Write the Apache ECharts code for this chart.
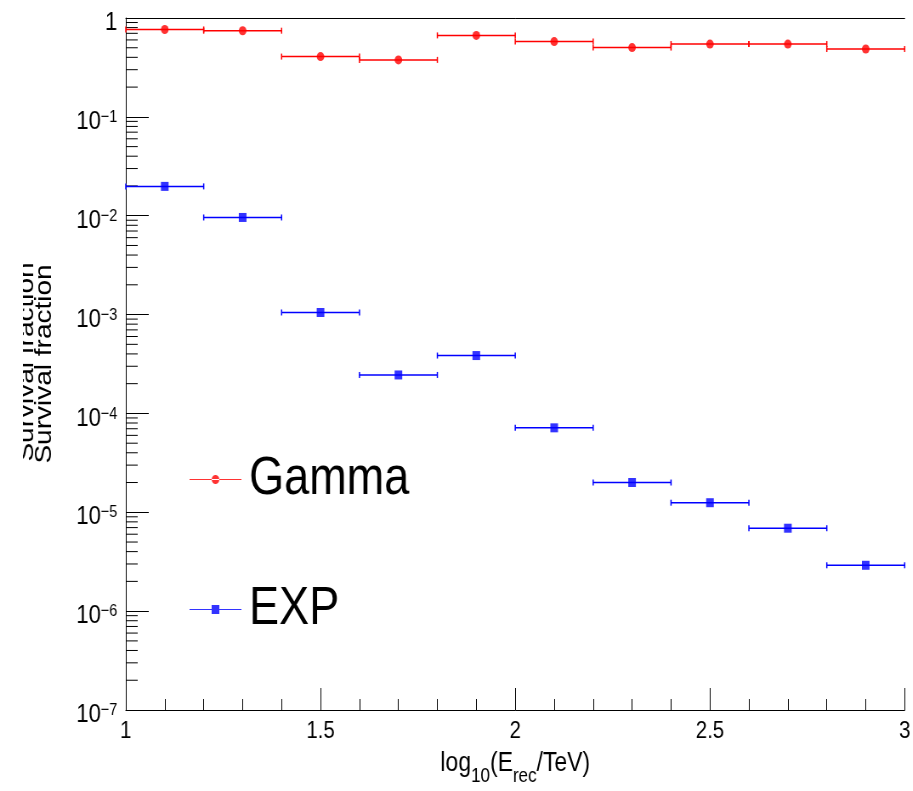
<!DOCTYPE html>
<html>
<head>
<meta charset="utf-8">
<script src="https://cdn.jsdelivr.net/npm/echarts@6/dist/echarts.min.js"></script>
<style>
  html, body { margin: 0; padding: 0; background: #fff; overflow: hidden; }
  /* the original plot is squeezed horizontally, so draw wide and compress */
  #chart { width: 1074px; height: 791px; transform: scaleX(0.85); transform-origin: 0 0; }
</style>
</head>
<body>
<div id="chart"></div>
<script>
// bins in log10(E_rec/TeV), width 0.2
const binCenters = [1.1, 1.3, 1.5, 1.7, 1.9, 2.1, 2.3, 2.5, 2.7, 2.9];
const binHalfWidth = 0.1;
const gammaValues = [0.766, 0.744, 0.407, 0.377, 0.667, 0.577, 0.502, 0.545, 0.545, 0.486];
const expValues = [0.0198, 0.0096, 0.00105, 2.45e-4, 3.85e-4, 7.15e-5, 2.0e-5, 1.25e-5, 6.9e-6, 2.91e-6];

const xTicks = [1, 1.5, 2, 2.5, 3];
const yDecades = [1e-7, 1e-6, 1e-5, 1e-4, 1e-3, 1e-2, 1e-1];
const yMinorSteps = [2, 3, 4, 5, 6, 7, 8, 9];

const FONT = '"Liberation Sans", Arial, Helvetica, sans-serif';

const chart = echarts.init(document.getElementById("chart"));

// horizontal bin-width bars with end caps
const errorBars = (name, values, color) => ({
  type: "custom",
  name: name + " err",
  silent: true,
  z: 2,
  data: binCenters.map((x, i) => [x, values[i]]),
  renderItem: (params, api) => {
    const x = api.value(0);
    const y = api.value(1);
    const a = api.coord([x - binHalfWidth, y]);
    const b = api.coord([x + binHalfWidth, y]);
    const style = { stroke: color, lineWidth: 1.5 };
    return {
      type: "group",
      children: [
        { type: "line", shape: { x1: a[0], y1: a[1], x2: b[0], y2: b[1] }, style },
        { type: "line", shape: { x1: a[0], y1: a[1] - 3, x2: a[0], y2: a[1] + 3 }, style },
        { type: "line", shape: { x1: b[0], y1: b[1] - 3, x2: b[0], y2: b[1] + 3 }, style },
      ],
    };
  },
});

// log minor ticks (2..9 per decade), drawn inside the frame
const minorTickData = [];
yDecades.forEach((d) => yMinorSteps.forEach((k) => minorTickData.push([1, k * d])));

const option = {
  animation: false,
  backgroundColor: "#fff",
  grid: { left: 148, right: 2, top: 18, bottom: 77 },
  xAxis: [
    {
      type: "value",
      min: 1,
      max: 3,
      interval: 0.5,
      axisLine: { lineStyle: { color: "#000", width: 1 } },
      axisTick: { inside: true, length: 22, lineStyle: { color: "#000" } },
      minorTick: { show: true, splitNumber: 5, length: 11, lineStyle: { color: "#000" } },
      splitLine: { show: false },
      axisLabel: {
        margin: 9,
        fontSize: 24,
        color: "#000",
        fontFamily: FONT,
        showMinLabel: true,
        showMaxLabel: true,
        formatter: (v) => (xTicks.includes(v) ? String(v) : ""),
      },
      name: "{n|log}{sub|10}{n|(E}{sub|rec}{n|/TeV)}",
      nameLocation: "middle",
      nameGap: 40,
      nameTextStyle: {
        rich: {
          n: { fontSize: 27, lineHeight: 27, fontFamily: FONT, color: "#000", verticalAlign: "top" },
          sub: { fontSize: 20, lineHeight: 20, fontFamily: FONT, color: "#000", verticalAlign: "top", padding: [16, 0, 0, 0] },
        },
      },
    },
    {
      type: "value",
      position: "top",
      min: 1,
      max: 3,
      axisLine: { lineStyle: { color: "#000", width: 1 } },
      axisTick: { show: false },
      axisLabel: { show: false },
      splitLine: { show: false },
    },
  ],
  yAxis: {
    type: "log",
    logBase: 10,
    min: 1e-7,
    max: 1,
    splitNumber: 7,
    axisLine: { lineStyle: { color: "#000", width: 1 } },
    axisTick: { inside: true, length: 27, lineStyle: { color: "#000" } },
    splitLine: { show: false },
    axisLabel: {
      margin: 10,
      padding: [10, 0, 0, 0],
      showMinLabel: true,
      showMaxLabel: true,
      formatter: (v) => {
        const e = Math.round(Math.log10(v));
        if (e === 0) return "{b|1}";
        return "{b|10}{s|\u2212" + -e + "}";
      },
      rich: {
        b: { fontSize: 26, lineHeight: 26, fontFamily: FONT, color: "#000", verticalAlign: "top" },
        s: { fontSize: 17, lineHeight: 17, fontFamily: FONT, color: "#000", verticalAlign: "top" },
      },
    },
    name: "Survival fraction",
    nameLocation: "middle",
    nameRotate: 90,
    nameGap: 82,
    nameTextStyle: { fontSize: 28, lineHeight: 28, fontFamily: FONT, color: "#000" },
  },
  legend: {
    orient: "vertical",
    left: 218,
    top: 448,
    itemGap: 77,
    itemWidth: 61,
    itemHeight: 9,
    selectedMode: false,
    textStyle: { fontSize: 53, lineHeight: 53, fontFamily: FONT, color: "#000", padding: [0, 0, 0, 4] },
    data: [
      { name: "Gamma", icon: "path://M0,4.5 H61 V5.5 H0 Z M26,5 A4.5,4.5 0 1,0 35,5 A4.5,4.5 0 1,0 26,5 Z" },
      { name: "EXP", icon: "path://M0,4.5 H61 V5.5 H0 Z M26,0.5 H35 V9.5 H26 Z" },
    ],
  },
  graphic: [
    // duplicate of the axis title, half hidden, as in the original
    {
      type: "text",
      x: 31,
      y: 362,
      rotation: Math.PI / 2,
      z: 1,
      style: {
        text: "Survival fraction",
        fontSize: 28,
        fontFamily: FONT,
        fill: "#000",
        align: "center",
        verticalAlign: "middle",
      },
    },
    { type: "rect", z: 2, shape: { x: 0, y: 230, width: 27, height: 270 }, style: { fill: "#fff" } },
  ],
  series: [
    {
      type: "custom",
      name: "minor ticks",
      silent: true,
      clip: false,
      data: minorTickData,
      renderItem: (params, api) => {
        const p = api.coord([api.value(0), api.value(1)]);
        return {
          type: "line",
          shape: { x1: p[0], y1: p[1], x2: p[0] + 14, y2: p[1] },
          style: { stroke: "#000", lineWidth: 1 },
        };
      },
    },
    errorBars("Gamma", gammaValues, "#ff0000"),
    errorBars("EXP", expValues, "#0000ff"),
    {
      type: "scatter",
      name: "Gamma",
      symbol: "circle",
      symbolSize: 9,
      z: 3,
      itemStyle: { color: "#ff0000" },
      data: binCenters.map((x, i) => [x, gammaValues[i]]),
    },
    {
      type: "scatter",
      name: "EXP",
      symbol: "rect",
      symbolSize: 9,
      z: 3,
      itemStyle: { color: "#0000ff" },
      data: binCenters.map((x, i) => [x, expValues[i]]),
    },
  ],
};

chart.setOption(option);
</script>
</body>
</html>
